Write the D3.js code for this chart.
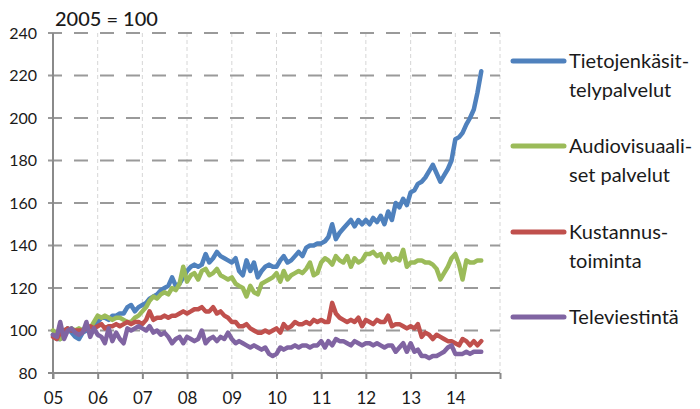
<!DOCTYPE html>
<html>
<head>
<meta charset="utf-8">
<script src="https://cdn.jsdelivr.net/npm/d3@7"></script>
<style>
  body { margin: 0; background: #fff; }
  text { font-family: Lato, "Noto Sans", sans-serif; fill: #1a1a1a; }
</style>
</head>
<body>
<svg id="chart" width="700" height="409"></svg>
<script>
// Monthly index values, 2005 = 100, Jan 2005 .. Aug 2014
const tieto = [
  98, 96, 96, 98, 101, 99, 97, 96, 99, 100, 101, 103,
  104, 106, 106, 105, 107, 107, 108, 108, 111, 112, 109, 111,
  112, 113, 115, 116, 117, 119, 120, 121, 125, 121, 122, 125,
  128, 130, 131, 130, 131, 136, 132, 134, 137, 135, 134, 133,
  132, 134, 128, 126, 133, 128, 132, 125, 128, 130, 131, 130,
  130, 133, 135, 132, 133, 135, 137, 135, 139, 140, 140, 141,
  141, 142, 144, 150, 143, 146, 148, 150, 152, 149, 152, 150,
  152, 150, 153, 151, 154, 150, 156, 152, 160, 158, 162, 159,
  165, 166, 169, 170, 172, 175, 178, 174, 170, 173, 176, 180,
  190, 191, 193, 197, 200, 204, 212, 222
];
const audio = [
  100, 98, 96, 98, 100, 101, 100, 101, 100, 102, 101, 104,
  107, 106, 107, 106, 105, 106, 106, 105, 104, 104, 106, 107,
  109, 111, 114, 116, 115, 117, 118, 117, 120, 119, 122, 130,
  123, 126, 127, 124, 128, 129, 126, 127, 129, 126, 125, 124,
  125, 122, 121, 120, 116, 121, 118, 117, 122, 123, 124, 125,
  127, 123, 128, 124, 126, 127, 128, 127, 129, 132, 126, 127,
  132, 134, 133, 131, 135, 133, 132, 135, 130, 134, 132, 133,
  136, 136, 137, 135, 136, 132, 136, 133, 134, 133, 138, 130,
  132, 132, 133, 133, 132, 132, 131, 129, 124, 127, 130, 134,
  136, 131, 124, 133, 132, 132, 133, 133
];
const kustannus = [
  97, 96, 99, 100, 101, 100, 100, 100, 100, 101, 102, 101,
  102, 103, 101, 102, 102, 103, 102, 103, 104, 103, 104, 104,
  103, 105, 109, 105, 106, 106, 107, 106, 107, 107, 108, 109,
  108, 109, 110, 110, 111, 109, 109, 111, 108, 109, 107, 106,
  104, 104, 102, 102, 103, 101, 100, 99, 99, 100, 99, 100,
  101, 99, 103, 101, 102, 104, 103, 103, 104, 103, 105, 104,
  105, 104, 104, 113, 108, 106, 105, 104, 105, 104, 106, 102,
  105, 104, 103, 105, 104, 104, 107, 102, 103, 103, 102, 101,
  102, 101, 103, 97, 99, 98, 96, 98, 97, 96, 95, 95,
  94, 93, 96, 95, 93, 95, 93, 95
];
const tele = [
  98, 97, 104, 96, 100, 101, 99, 98, 99, 104, 97, 101,
  98, 97, 94, 101, 95, 99, 96, 94, 101, 100, 101, 102,
  101, 100, 102, 99, 100, 98, 99, 97, 94, 96, 97, 94,
  97, 96, 95, 96, 100, 94, 96, 97, 95, 97, 96, 99,
  96, 94, 95, 94, 93, 92, 93, 92, 91, 92, 89, 88,
  89, 92, 91, 92, 92, 93, 92, 93, 93, 92, 93, 93,
  95, 92, 95, 93, 96, 95, 95, 94, 93, 95, 94, 93,
  94, 94, 93, 94, 93, 92, 93, 93, 90, 92, 94, 90,
  94, 90, 91, 88, 88, 87, 88, 88, 89, 90, 92, 93,
  89, 89, 89, 90, 89, 90, 90, 90
];

const startMonth = new Date(2005, 0, 1);
const yearTicks = d3.range(2005, 2016);
const yTicks = [80, 100, 120, 140, 160, 180, 200, 220, 240];

const series = [
  { name: ["Tietojenkäsit-", "telypalvelut"], values: tieto, color: "#4F81BD" },
  { name: ["Audiovisuaali-", "set palvelut"], values: audio, color: "#9BBB59" },
  { name: ["Kustannus-", "toiminta"], values: kustannus, color: "#C0504D" },
  { name: ["Televiestintä"], values: tele, color: "#8064A2" }
];

const svg = d3.select("#chart");
const plot = { left: 53, right: 500, top: 33, bottom: 373 };

const x = d3.scaleTime()
  .domain([new Date(2005, 0, 1), new Date(2015, 0, 1)])
  .range([plot.left, plot.right]);
const y = d3.scaleLinear().domain([80, 240]).range([plot.bottom, plot.top]);

// vertical grid (light dashed)
svg.append("g")
  .selectAll("line")
  .data(yearTicks.slice(1))
  .join("line")
  .attr("x1", d => x(new Date(d, 0, 1)))
  .attr("x2", d => x(new Date(d, 0, 1)))
  .attr("y1", plot.top)
  .attr("y2", plot.bottom)
  .attr("stroke", "#d6d6d6")
  .attr("stroke-width", 1)
  .attr("stroke-dasharray", "4,3");

// horizontal grid (dashed)
svg.append("g")
  .selectAll("line")
  .data(yTicks.slice(1))
  .join("line")
  .attr("x1", plot.left - 5)
  .attr("x2", plot.right)
  .attr("y1", d => y(d))
  .attr("y2", d => y(d))
  .attr("stroke", "#9a9a9a")
  .attr("stroke-width", 2)
  .attr("stroke-dasharray", "14,12");

// axes
const xAxis = svg.append("g")
  .attr("transform", `translate(0,${plot.bottom})`)
  .call(d3.axisBottom(x)
    .tickValues(yearTicks.map(d => new Date(d, 0, 1)))
    .tickSize(6)
    .tickFormat(d => d.getFullYear() < 2015 ? d3.timeFormat("%y")(d) : ""));
xAxis.select(".domain").attr("d", `M${plot.left - 5},0H${plot.right}`);
xAxis.selectAll("line, .domain").attr("stroke", "#8a8a8a").attr("stroke-width", 2);
xAxis.selectAll("text")
  .attr("dy", 0)
  .attr("y", 31)
  .style("font-size", "17px")
  .style("font-family", "Lato, 'Noto Sans', sans-serif")
  .attr("fill", "#1a1a1a");

const yAxis = svg.append("g")
  .attr("transform", `translate(${plot.left},0)`)
  .call(d3.axisLeft(y).tickValues(yTicks).tickSize(0).tickPadding(16));
yAxis.select(".domain").attr("d", `M0,${plot.top}V${plot.bottom + 6}`)
  .attr("stroke", "#8a8a8a").attr("stroke-width", 2);
yAxis.selectAll("text")
  .style("font-size", "16px")
  .style("font-family", "Lato, 'Noto Sans', sans-serif")
  .attr("fill", "#1a1a1a");

// series lines
const line = d3.line()
  .x((d, i) => x(d3.timeMonth.offset(startMonth, i)))
  .y(d => y(d));

svg.append("g")
  .selectAll("path")
  .data(series)
  .join("path")
  .attr("fill", "none")
  .attr("stroke", d => d.color)
  .attr("stroke-width", 4.5)
  .attr("stroke-linejoin", "round")
  .attr("stroke-linecap", "round")
  .attr("d", d => line(d.values));

// title
svg.append("text")
  .attr("x", 55)
  .attr("y", 26)
  .style("font-size", "20px")
  .style("font-weight", 500)
  .text("2005 = 100");

// legend
const legendY = [61, 146, 232, 317];
const legend = svg.append("g")
  .selectAll("g")
  .data(series)
  .join("g")
  .attr("transform", (d, i) => `translate(0,${legendY[i]})`);

legend.append("line")
  .attr("x1", 513).attr("x2", 564)
  .attr("stroke", d => d.color)
  .attr("stroke-width", 5)
  .attr("stroke-linecap", "round");

legend.append("text")
  .attr("x", 569)
  .attr("y", 7)
  .style("font-size", "20px")
  .selectAll("tspan")
  .data(d => d.name)
  .join("tspan")
  .attr("x", 569)
  .attr("dy", (d, i) => i === 0 ? 0 : 28.5)
  .text(d => d);
</script>
</body>
</html>
